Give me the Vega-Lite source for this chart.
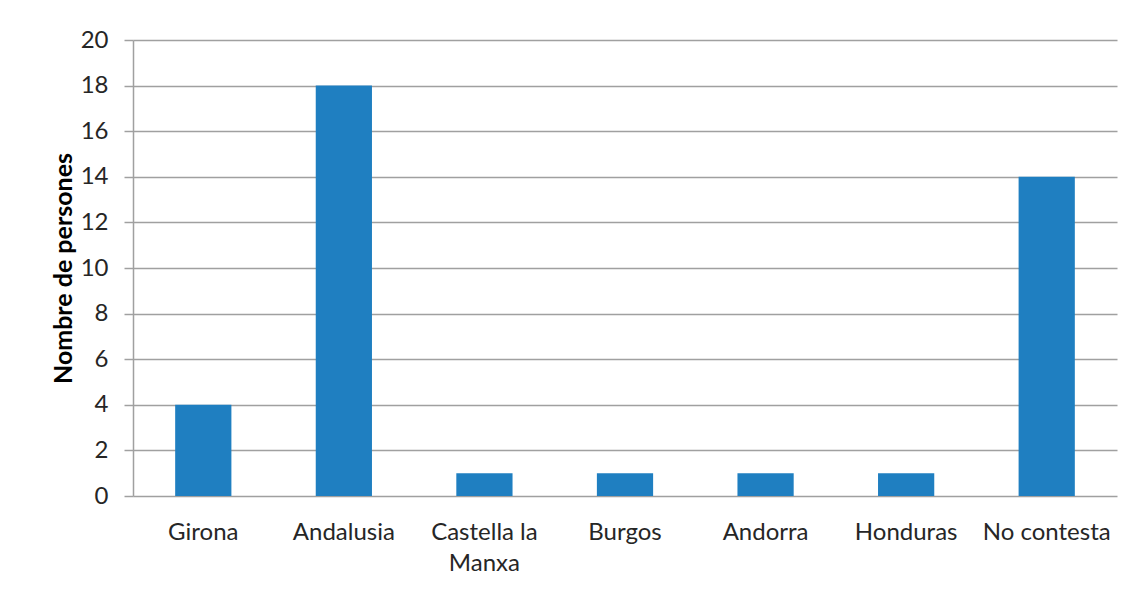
{
  "$schema": "https://vega.github.io/schema/vega-lite/v6.json",
  "autosize": {"type": "none"},
  "width": 984,
  "height": 456,
  "padding": {"left": 133, "top": 40, "right": 22, "bottom": 94},
  "background": "white",
  "data": {"values": [
    {"lloc": "Girona", "persones": 4},
    {"lloc": "Andalusia", "persones": 18},
    {"lloc": "Castella la Manxa", "persones": 1},
    {"lloc": "Burgos", "persones": 1},
    {"lloc": "Andorra", "persones": 1},
    {"lloc": "Honduras", "persones": 1},
    {"lloc": "No contesta", "persones": 14}
  ]},
  "mark": {"type": "bar", "color": "#1F7FC1"},
  "encoding": {
    "x": {
      "field": "lloc", "type": "nominal", "sort": null,
      "scale": {"paddingInner": 0.6, "paddingOuter": 0.3},
      "axis": {
        "title": null, "labelAngle": 0, "ticks": false, "domain": false,
        "labelPadding": 36, "labelFont": "Lato", "labelFontSize": 24,
        "labelColor": "#262626", "labelLineHeight": 31, "labelBaseline": "middle",
        "labelExpr": "datum.label == 'Castella la Manxa' ? ['Castella la', 'Manxa'] : datum.label"
      }
    },
    "y": {
      "field": "persones", "type": "quantitative",
      "scale": {"domain": [0, 20]},
      "axis": {
        "title": "Nombre de persones", "titleFont": "Lato", "titleFontSize": 25,
        "titleFontWeight": "bold", "titleColor": "#000000", "titlePadding": 4,
        "values": [0, 2, 4, 6, 8, 10, 12, 14, 16, 18, 20],
        "tickSize": 9, "tickColor": "#A0A0A0", "tickWidth": 1.5,
        "domainColor": "#A0A0A0", "domainWidth": 1.5,
        "gridColor": "#A0A0A0", "gridWidth": 1.5,
        "labelPadding": 16, "labelFont": "Lato", "labelFontSize": 24, "labelColor": "#262626"
      }
    }
  },
  "config": {"view": {"stroke": null}}
}
